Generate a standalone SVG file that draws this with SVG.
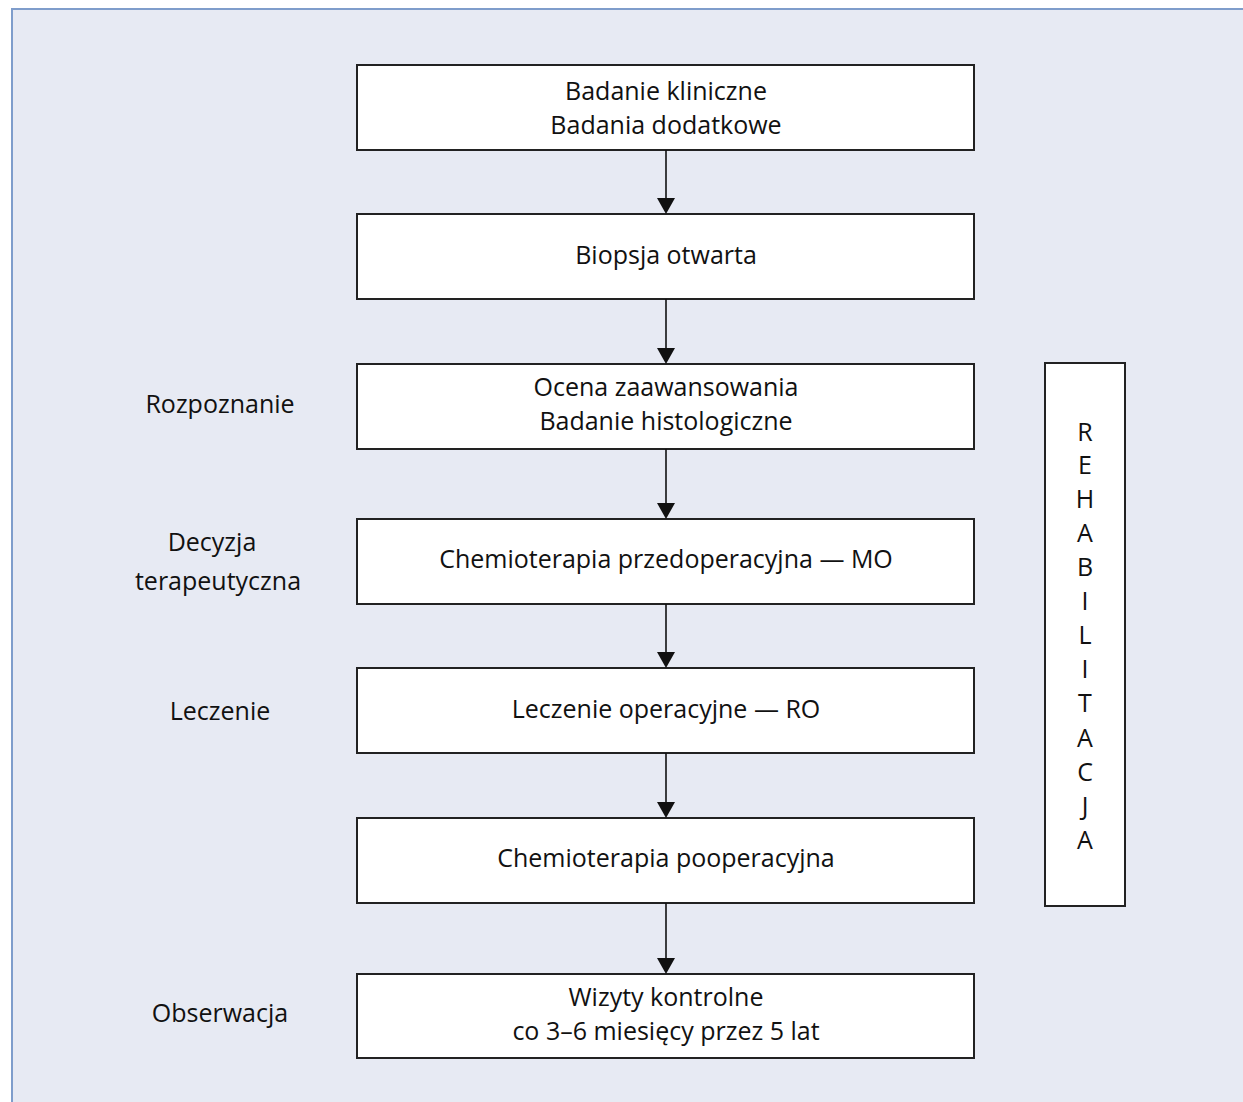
<svg xmlns="http://www.w3.org/2000/svg" width="1243" height="1102" viewBox="0 0 1243 1102">
<defs>
<style>
.bgfill{fill:#e7eaf3}
.bgline{fill:none;stroke:#7f9dcb;stroke-width:2}
.box{fill:#fff;stroke:#222;stroke-width:2}
.t{font-family:"Open Sans","Noto Sans",sans-serif;font-size:25px;fill:#111;text-anchor:middle}
.conn line{stroke:#111;stroke-width:1.6}
.conn path{fill:#111}
</style>
</defs>
<rect x="0" y="0" width="1243" height="1102" fill="#fff"/>
<rect class="bgfill" x="12" y="9" width="1231" height="1093"/>
<path class="bgline" d="M12 1102 V9 H1243"/>
<g id="n1"><rect class="box" x="357" y="65" width="617" height="85"/><text class="t" x="666" y="100">Badanie kliniczne</text><text class="t" x="666" y="134">Badania dodatkowe</text></g>
<g id="n2"><rect class="box" x="357" y="214" width="617" height="85"/><text class="t" x="666" y="264">Biopsja otwarta</text></g>
<g id="n3"><rect class="box" x="357" y="364" width="617" height="85"/><text class="t" x="666" y="396">Ocena zaawansowania</text><text class="t" x="666" y="430">Badanie histologiczne</text></g>
<g id="n4"><rect class="box" x="357" y="519" width="617" height="85"/><text class="t" x="666" y="568">Chemioterapia przedoperacyjna — MO</text></g>
<g id="n5"><rect class="box" x="357" y="668" width="617" height="85"/><text class="t" x="666" y="718">Leczenie operacyjne — RO</text></g>
<g id="n6"><rect class="box" x="357" y="818" width="617" height="85"/><text class="t" x="666" y="867">Chemioterapia pooperacyjna</text></g>
<g id="n7"><rect class="box" x="357" y="974" width="617" height="84"/><text class="t" x="666" y="1006">Wizyty kontrolne</text><text class="t" x="666" y="1040">co 3–6 miesięcy przez 5 lat</text></g>
<g id="rehab"><rect class="box" x="1045" y="363" width="80" height="543"/>
<text class="t" x="1085"><tspan x="1085" y="441">R</tspan><tspan x="1085" y="474">E</tspan><tspan x="1085" y="508">H</tspan><tspan x="1085" y="542">A</tspan><tspan x="1085" y="576">B</tspan><tspan x="1085" y="610">I</tspan><tspan x="1085" y="644">L</tspan><tspan x="1085" y="678">I</tspan><tspan x="1085" y="712">T</tspan><tspan x="1085" y="747">A</tspan><tspan x="1085" y="781">C</tspan><tspan x="1085" y="815">J</tspan><tspan x="1085" y="849">A</tspan></text></g>
<g id="labels">
<text class="t" x="220" y="413">Rozpoznanie</text>
<text class="t" x="212" y="551">Decyzja</text>
<text class="t" x="218" y="590">terapeutyczna</text>
<text class="t" x="220" y="720">Leczenie</text>
<text class="t" x="220" y="1022">Obserwacja</text>
</g>
<g class="conn">
<line x1="666" y1="150" x2="666" y2="200"/><path d="M657 198 L675 198 L666 214 Z"/>
<line x1="666" y1="299" x2="666" y2="350"/><path d="M657 348 L675 348 L666 364 Z"/>
<line x1="666" y1="449" x2="666" y2="505"/><path d="M657 503 L675 503 L666 519 Z"/>
<line x1="666" y1="604" x2="666" y2="654"/><path d="M657 652 L675 652 L666 668 Z"/>
<line x1="666" y1="753" x2="666" y2="804"/><path d="M657 802 L675 802 L666 818 Z"/>
<line x1="666" y1="903" x2="666" y2="960"/><path d="M657 958 L675 958 L666 974 Z"/>
</g>
</svg>
